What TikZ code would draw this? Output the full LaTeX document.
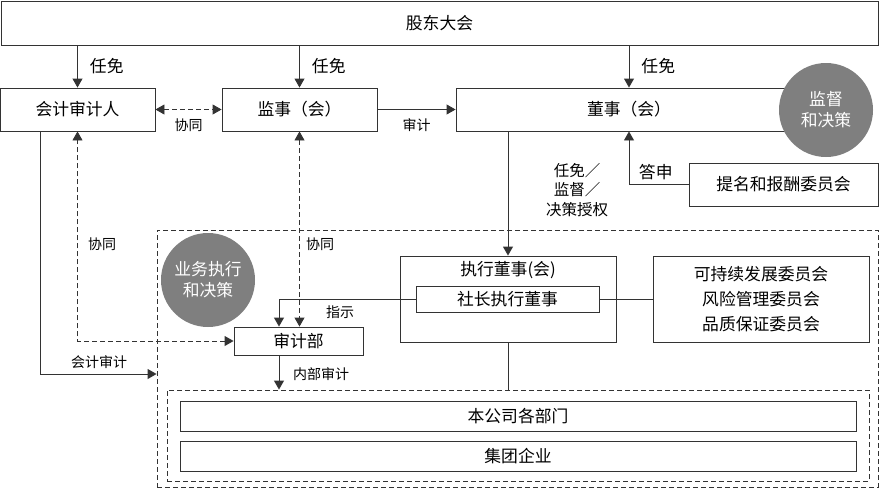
\documentclass[tikz,border=0pt]{standalone}
\usepackage{fontspec}
\setmainfont{Noto Sans CJK SC}
\usetikzlibrary{arrows.meta}
\definecolor{linegray}{HTML}{333333}
\definecolor{blobgray}{HTML}{7F7F7F}

\begin{document}
\begin{tikzpicture}[x=1pt, y=-1pt, line width=.9pt, draw=linegray,
    box/.style={draw=linegray, fill=white, inner sep=0pt, font=\fontsize{16.8}{25}\selectfont},
    lbl/.style={inner sep=0pt, font=\fontsize{14}{19}\selectfont},
    biglbl/.style={inner sep=0pt, font=\fontsize{16.8}{19}\selectfont},
    blob/.style={circle, fill=blobgray, text=white, minimum size=94pt, inner sep=0pt,
        align=center, font=\fontsize{16.8}{21}\selectfont},
    region/.style={draw=linegray, dash pattern=on 5pt off 3pt},
    dline/.style={dash pattern=on 5pt off 3pt},
    arr/.style={-{Triangle[length=9pt,width=10pt]}},
    arrs/.style={{Triangle[length=9pt,width=10pt]}-{Triangle[length=9pt,width=10pt]}}]
    \useasboundingbox (0,0) rectangle (880,488);

    % top rows
    \node[box, minimum width=877pt, minimum height=44pt] (gdh) at (439.5,23) {股东大会};
    \node[box, minimum width=155pt, minimum height=43pt] (kjs) at (77.5,109.5) {会计审计人};
    \node[box, minimum width=155pt, minimum height=43pt] (jsh) at (299.5,109.5) {监事（会）};
    \node[box, minimum width=346pt, minimum height=43pt] (dsh) at (629,109.5) {董事（会）};
    \node[blob] (jd) at (826,110) {监督\\和决策};
    \node[box, minimum width=189pt, minimum height=43pt] (tmc) at (783.5,184.5) {提名和报酬委员会};

    % execution area
    \node[region, minimum width=721pt, minimum height=257pt] (outer) at (517.5,358.5) {};
    \node[blob] (yw) at (208,280) {业务执行\\和决策};
    \node[box, minimum width=216pt, minimum height=86pt] (exe) at (508,299) {};
    \node[box, draw=none, fill=none] (exet) at (508,270) {执行董事(会)};
    \node[box, minimum width=183pt, minimum height=26pt] (sz) at (507.5,299) {社长执行董事};
    \node[box, minimum width=216pt, minimum height=86pt, align=center] (wyh) at (761,299)
        {可持续发展委员会\\风险管理委员会\\品质保证委员会};
    \node[box, minimum width=129pt, minimum height=28pt] (sjb) at (298.5,341) {审计部};
    \node[region, minimum width=702pt, minimum height=91pt] (inner) at (518,435.5) {};
    \node[box, minimum width=676pt, minimum height=30pt] (bgs) at (518,416) {本公司各部门};
    \node[box, minimum width=676pt, minimum height=30pt] (jtq) at (518,456) {集团企业};

    % connectors
    \draw[arr] (gdh.south -| kjs) -- node[biglbl, anchor=west, xshift=12pt] {任免} (kjs.north);
    \draw[arr] (gdh.south -| jsh) -- node[biglbl, anchor=west, xshift=12pt] {任免} (jsh.north);
    \draw[arr] (gdh.south -| dsh) -- node[biglbl, anchor=west, xshift=12pt] {任免} (dsh.north);
    \draw[dline, arrs] (kjs.east) -- node[lbl, yshift=-16pt] {协同} (jsh.west);
    \draw[arr] (jsh.east) -- node[lbl, yshift=-16pt] {审计} (dsh.west);
    \draw[arr] (exe.north |- dsh.south) -- (exe.north);
    \node[biglbl, align=center, font=\fontsize{15.5}{19.5}\selectfont] (rmlbl) at (577,190) {任免／\\监督／\\决策授权};
    \draw[arr] (tmc.west) -| node[biglbl, pos=.25, yshift=12pt, xshift=-3pt] {答申} (dsh.south);
    \draw (sz.east) -- (wyh.west);
    \draw[arr] (sz.west) -| ([xshift=-19.5pt]sjb.north);
    \node[lbl] (zslbl) at (340,312) {指示};
    \draw[dline, arrs] (jsh.south) -- (jsh.south |- sjb.north);
    \node[lbl] (xt2) at (320,244) {协同};
    \draw[dline, arrs] (sjb.west) -| (kjs.south);
    \node[lbl] (xt1) at (102,244) {协同};
    \draw[arr] ([xshift=-37.5pt]kjs.south) |- ([yshift=-15.5pt]outer.west);
    \node[lbl] (kjlbl) at (99,362) {会计审计};
    \draw[arr] ([xshift=-19.5pt]sjb.south) -- ([xshift=-19.5pt]sjb.south |- inner.north);
    \node[lbl] (nblbl) at (321,374) {内部审计};
    \draw (exe.south) -- (exe.south |- inner.north);
\end{tikzpicture}
\end{document}
